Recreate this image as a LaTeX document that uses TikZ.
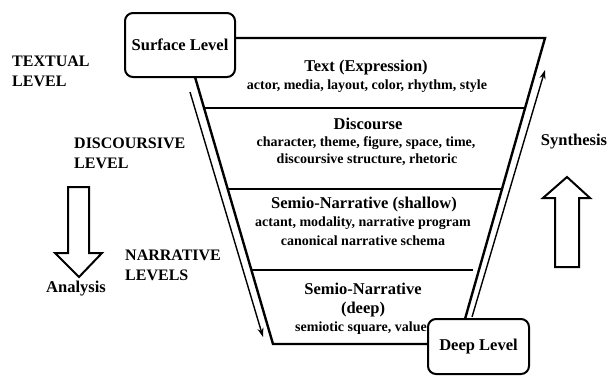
\documentclass[tikz,border=0pt]{standalone}
\usepackage{fontspec}
\setmainfont{Liberation Serif}[BoldFont={Liberation Serif Bold}]
\usetikzlibrary{arrows.meta}
\begin{document}
\begin{tikzpicture}[x=1pt,y=-1pt,
  edge/.style={line width=2.4pt},
  flowarrow/.style={line width=1.4pt,-{Stealth[length=9pt,width=6pt]}},
  levelbox/.style={draw,line width=2pt,rounded corners=8pt,fill=white,inner sep=0pt,
    font=\rmfamily\bfseries\fontsize{16.5}{18}\selectfont},
  title/.style={inner sep=0pt,font=\rmfamily\bfseries\fontsize{16.5}{18}\selectfont},
  sub/.style={inner sep=0pt,font=\rmfamily\bfseries\fontsize{14}{17}\selectfont},
  side/.style={inner sep=0pt,font=\rmfamily\bfseries\fontsize{16}{20}\selectfont,align=left,anchor=west},
  block/.style={draw,line width=2pt,fill=white}]
\useasboundingbox (0,0) rectangle (610,376);

% trapezoid corners
\coordinate (ltop) at (195,77);
\coordinate (tl) at (235,38);
\coordinate (tr) at (545,38);
\coordinate (rbot) at (465,319);
\coordinate (bl) at (273,344);
\coordinate (br) at (428,344);
% dividers
\coordinate (d1l) at (204,108); \coordinate (d1r) at (524,108);
\coordinate (d2l) at (227,189); \coordinate (d2r) at (502,189);
\coordinate (d3l) at (251,270); \coordinate (d3r) at (473,270);
% flow arrows
\coordinate (a1s) at (190,92); \coordinate (a1e) at (263,337);
\coordinate (a2s) at (472,317); \coordinate (a2e) at (545,70);

\draw[edge] (tl) -- (tr) -- (rbot);
\draw[edge] (ltop) -- (bl) -- (br);
\draw[edge] (d1l) -- (d1r);
\draw[edge] (d2l) -- (d2r);
\draw[edge] (d3l) -- (d3r);
\draw[flowarrow] (a1s) -- (a1e);
\draw[flowarrow] (a2s) -- (a2e);

% layer texts
\node[title] (t1) at (366,68) {Text (Expression)};
\node[sub] (s1) at (367,86) {actor, media, layout, color, rhythm, style};
\node[title] (t2) at (368,124) {Discourse};
\node[sub] (s2a) at (366,143) {character, theme, figure, space, time,};
\node[sub] (s2b) at (367,160) {discoursive structure, rhetoric};
\node[title] (t3) at (364,205) {Semio-Narrative (shallow)};
\node[sub] (s3a) at (363,223) {actant, modality, narrative program};
\node[sub] (s3b) at (363,241) {canonical narrative schema};
\node[title] (t4a) at (363,289) {Semio-Narrative};
\node[title] (t4b) at (363,310) {(deep)};
\node[sub] (s4) at (361,328) {semiotic square, value};

% level boxes
\node[levelbox,minimum width=110pt,minimum height=64pt] (surface) at (180,45) {Surface Level};
\node[levelbox,minimum width=101pt,minimum height=55pt] (deep) at (478.5,346.5) {Deep Level};

% side labels
\node[side] (textual) at (12,71) {TEXTUAL\\LEVEL};
\node[side] (discursive) at (74,153) {DISCOURSIVE\\LEVEL};
\node[side] (narrative) at (125,265) {NARRATIVE\\LEVELS};
\node[title] (analysis) at (76,289) {Analysis};
\node[title] (synthesis) at (574,142) {Synthesis};

% block arrows
\draw[block] (68,187) -- (89,187) -- (89,253) -- (102,253) -- (79,277) -- (55,253) -- (68,253) -- cycle;
\draw[block] (555,267) -- (579,267) -- (579,198) -- (590,198) -- (567,177) -- (543,198) -- (555,198) -- cycle;
\end{tikzpicture}
\end{document}
